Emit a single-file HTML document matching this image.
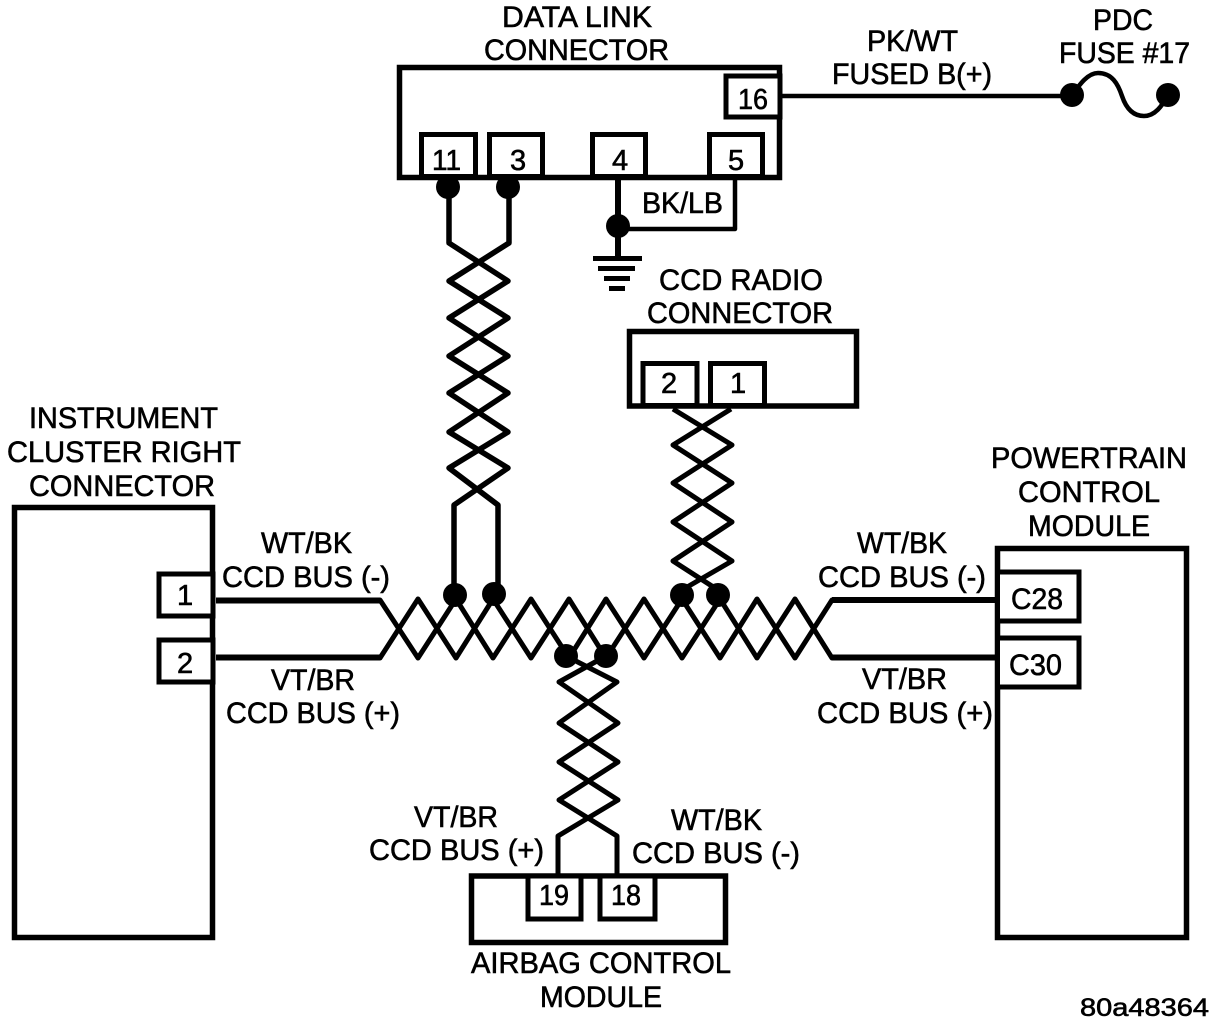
<!DOCTYPE html>
<html>
<head>
<meta charset="utf-8">
<title>CCD Bus Wiring Diagram</title>
<style>
html,body{margin:0;padding:0;background:#fff;width:1216px;height:1026px;overflow:hidden}
svg{display:block}
text{font-family:"Liberation Sans",Arial,sans-serif;font-size:29.5px;fill:#000;stroke:#000;stroke-width:.6px}
.n{font-size:29px}
.box{fill:none;stroke:#000;stroke-width:5.500}
.pin{fill:#fff;stroke:#000;stroke-width:5}
.w{fill:none;stroke:#000;stroke-width:4.500;stroke-linejoin:round}
</style>
</head>
<body>
<svg width="1216" height="1026" viewBox="0 0 1216 1026" xmlns="http://www.w3.org/2000/svg">
<rect width="1216" height="1026" fill="#fff"/>

<!-- Boxes -->
<rect class="box" x="399.500" y="67.500" width="380" height="110"/>
<rect class="box" x="629.500" y="331.500" width="227" height="74.500"/>
<rect class="box" x="14.500" y="507.500" width="198" height="430"/>
<rect class="box" x="997.500" y="548.500" width="189" height="389"/>
<rect class="box" x="471.500" y="876" width="254" height="66.500"/>

<!-- Pins -->
<rect class="pin" x="726" y="76" width="54" height="41"/>
<rect class="pin" x="421.500" y="134.500" width="54" height="42"/>
<rect class="pin" x="489.500" y="134.500" width="53" height="42"/>
<rect class="pin" x="592.500" y="134.500" width="53" height="42"/>
<rect class="pin" x="709.500" y="134.500" width="53" height="42"/>
<rect class="pin" x="643" y="363.500" width="54" height="42"/>
<rect class="pin" x="710.500" y="363.500" width="54" height="42"/>
<rect class="pin" x="159" y="574" width="54" height="42"/>
<rect class="pin" x="159" y="640" width="54" height="42"/>
<rect class="pin" x="997.500" y="572" width="81.500" height="49"/>
<rect class="pin" x="997.500" y="638" width="81.500" height="49"/>
<rect class="pin" x="528" y="876" width="53" height="43"/>
<rect class="pin" x="600" y="876" width="55" height="43"/>

<!-- Fuse feed and fuse -->
<path class="w" d="M781 96H1072"/>
<path class="w" d="M1072 95C1080 84 1088 73 1098 73C1112 73 1118 84 1122 96C1126 108 1133 116 1144 116C1155 116 1162 106 1168 95"/>
<circle cx="1072" cy="95" r="12"/>
<circle cx="1168" cy="95" r="12"/>

<!-- Data link ground -->
<path class="w" style="stroke-width:6" d="M618 178V259"/>
<path class="w" d="M618 229H735V178"/>
<circle cx="618" cy="226" r="12"/>
<rect x="593" y="256" width="49" height="5"/>
<rect x="598" y="266" width="37" height="5"/>
<rect x="604" y="276" width="26" height="5"/>
<rect x="609" y="286" width="16" height="5"/>

<!-- Data link twisted pair -->
<path class="w" style="stroke-width:5.500" d="M449 180V243L508 281L449 318L508 356L449 393L508 432L449 468L498 505V594"/>
<path class="w" style="stroke-width:5.500" d="M509 180V243L449 281L508 318L449 356L508 393L449 432L508 468L454 505V595"/>
<circle cx="448" cy="187" r="12"/>
<circle cx="508" cy="187" r="12"/>

<!-- Radio twisted pair -->
<path class="w" style="stroke-width:5" d="M673 409L732 445L673 483L732 522L673 561L718 590"/>
<path class="w" style="stroke-width:5" d="M731 409L673 445L732 483L673 522L732 561L682 590"/>

<!-- Main twisted pair -->
<path class="w" style="stroke-width:5" d="M216 600H380L418 658L456 599L493 658L531 599L569 658L606 599L644 658L682 599L720 658L757 599L795 658L832 600H998"/>
<path class="w" style="stroke-width:5" d="M216 658H380L418 599L456 658L493 599L531 658L569 599L606 658L644 599L682 658L720 599L757 658L795 599L832 658H998"/>
<path class="w" style="stroke-width:6" d="M216 600.500H380M216 657.500H380M832 600H998M832 657.500H998"/>
<circle cx="455" cy="595" r="12"/>
<circle cx="494" cy="594" r="12"/>
<circle cx="682" cy="595" r="12"/>
<circle cx="718" cy="595" r="12"/>

<!-- Airbag twisted pair -->
<path class="w" style="stroke-width:5" d="M566 656L617 682L559 723L618 762L559 800L617 836V875"/>
<path class="w" style="stroke-width:5" d="M606 656L559 682L618 723L559 762L618 800L558 836V875"/>
<circle cx="566" cy="656" r="12"/>
<circle cx="606" cy="656" r="12"/>

<!-- Labels: data link -->
<text x="502" y="27" textLength="150" lengthAdjust="spacingAndGlyphs">DATA LINK</text>
<text x="484" y="60" textLength="185" lengthAdjust="spacingAndGlyphs">CONNECTOR</text>
<text class="n" x="738" y="109" textLength="30" lengthAdjust="spacingAndGlyphs">16</text>
<text class="n" x="432" y="170" textLength="29" lengthAdjust="spacingAndGlyphs">11</text>
<text class="n" x="510" y="170">3</text>
<text class="n" x="612" y="170">4</text>
<text class="n" x="728" y="170">5</text>
<text x="642" y="213" textLength="81" lengthAdjust="spacingAndGlyphs">BK/LB</text>

<!-- Labels: fuse -->
<text x="867" y="51" textLength="91" lengthAdjust="spacingAndGlyphs">PK/WT</text>
<text x="832" y="84" textLength="160" lengthAdjust="spacingAndGlyphs">FUSED B(+)</text>
<text x="1093" y="30" textLength="60" lengthAdjust="spacingAndGlyphs">PDC</text>
<text x="1059" y="63" textLength="131" lengthAdjust="spacingAndGlyphs">FUSE #17</text>

<!-- Labels: radio -->
<text x="659" y="290" textLength="164" lengthAdjust="spacingAndGlyphs">CCD RADIO</text>
<text x="647" y="323" textLength="186" lengthAdjust="spacingAndGlyphs">CONNECTOR</text>
<text class="n" x="661" y="393">2</text>
<text class="n" x="730" y="393">1</text>

<!-- Labels: instrument cluster -->
<text x="29" y="428" textLength="189" lengthAdjust="spacingAndGlyphs">INSTRUMENT</text>
<text x="7" y="462" textLength="234" lengthAdjust="spacingAndGlyphs">CLUSTER RIGHT</text>
<text x="29" y="496" textLength="186" lengthAdjust="spacingAndGlyphs">CONNECTOR</text>
<text x="261" y="553" textLength="91" lengthAdjust="spacingAndGlyphs">WT/BK</text>
<text x="222" y="587" textLength="168" lengthAdjust="spacingAndGlyphs">CCD BUS (-)</text>
<text class="n" x="177" y="605">1</text>
<text class="n" x="177" y="673">2</text>
<text x="271" y="690" textLength="84" lengthAdjust="spacingAndGlyphs">VT/BR</text>
<text x="226" y="723" textLength="174" lengthAdjust="spacingAndGlyphs">CCD BUS (+)</text>

<!-- Labels: powertrain -->
<text x="991" y="468" textLength="196" lengthAdjust="spacingAndGlyphs">POWERTRAIN</text>
<text x="1018" y="502" textLength="142" lengthAdjust="spacingAndGlyphs">CONTROL</text>
<text x="1028" y="536" textLength="122" lengthAdjust="spacingAndGlyphs">MODULE</text>
<text x="857" y="553" textLength="90" lengthAdjust="spacingAndGlyphs">WT/BK</text>
<text x="818" y="587" textLength="168" lengthAdjust="spacingAndGlyphs">CCD BUS (-)</text>
<text x="1011" y="609" textLength="52" lengthAdjust="spacingAndGlyphs">C28</text>
<text x="1009" y="675" textLength="53" lengthAdjust="spacingAndGlyphs">C30</text>
<text x="862" y="689" textLength="85" lengthAdjust="spacingAndGlyphs">VT/BR</text>
<text x="817" y="723" textLength="176" lengthAdjust="spacingAndGlyphs">CCD BUS (+)</text>

<!-- Labels: airbag -->
<text x="414" y="827" textLength="84" lengthAdjust="spacingAndGlyphs">VT/BR</text>
<text x="369" y="860" textLength="175" lengthAdjust="spacingAndGlyphs">CCD BUS (+)</text>
<text x="671" y="830" textLength="91" lengthAdjust="spacingAndGlyphs">WT/BK</text>
<text x="632" y="863" textLength="168" lengthAdjust="spacingAndGlyphs">CCD BUS (-)</text>
<text class="n" x="539" y="905" textLength="30" lengthAdjust="spacingAndGlyphs">19</text>
<text class="n" x="611" y="905" textLength="30" lengthAdjust="spacingAndGlyphs">18</text>
<text x="471" y="973" textLength="260" lengthAdjust="spacingAndGlyphs">AIRBAG CONTROL</text>
<text x="540" y="1007" textLength="122" lengthAdjust="spacingAndGlyphs">MODULE</text>

<text style="font-size:25px" x="1080" y="1016" textLength="129" lengthAdjust="spacingAndGlyphs">80a48364</text>
</svg>
</body>
</html>
